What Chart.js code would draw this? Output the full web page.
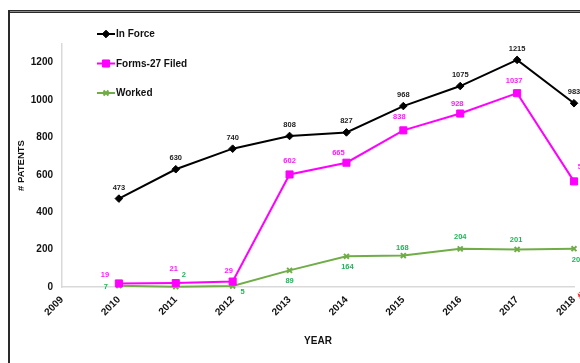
<!DOCTYPE html>
<html>

<head>
    <meta charset="utf-8">
    <title>Patents</title>
    <script src="https://cdn.jsdelivr.net/npm/chart.js@4.4.0/dist/chart.umd.min.js"></script>
    <style>
        html, body { margin: 0; padding: 0; overflow: hidden; background: #fff; }
        #frame {
            position: absolute; left: 8px; top: 10px; width: 700px; height: 500px;
            border-left: 2px solid #2a2a2a; border-top: 3px solid #2a2a2a;
        }
        #frameInner { position: absolute; left: 10px; top: 11px; width: 700px; height: 1px; background: #8a8a8a; }
        #myChart { position: absolute; left: 0; top: 0; }
    </style>
</head>

<body>
    <div id="frame"></div>
    <div id="frameInner"></div>
    <canvas id="myChart" width="620" height="363"></canvas>
    <script>
        // years on the x axis (2009 has no values)
        const years = ['2009', '2010', '2011', '2012', '2013', '2014', '2015', '2016', '2017', '2018'];
        const inForce = [null, 473, 630, 740, 808, 827, 968, 1075, 1215, 983];
        const forms27 = [null, 19, 21, 29, 602, 665, 838, 928, 1037, 565];
        const worked = [null, 7, 2, 5, 89, 164, 168, 204, 201, 205];

        // where each value label sits relative to its point [dx, dy]
        const inForceLabelPos = years.map(() => [0, -11]);
        const forms27LabelPos = [null, [-14, -9], [-2, -14], [-4, -11], [0, -14], [-8, -10], [-4, -13], [-3, -10], [-3, -12], [10, -14]];
        const workedLabelPos = [null, [-13, 1], [8, -12], [10, 6], [0, 11], [1, 11], [-1, -8], [0, -12], [-1, -9], [4, 11]];

        const FONT = "'Liberation Sans', Arial, sans-serif";

        const valueLabels = {
            id: 'valueLabels',
            afterDatasetsDraw(chart) {
                const ctx = chart.ctx;
                ctx.save();
                ctx.font = 'bold 7.5px ' + FONT;
                ctx.textAlign = 'center';
                ctx.textBaseline = 'middle';
                chart.data.datasets.forEach((ds, i) => {
                    const meta = chart.getDatasetMeta(i);
                    ctx.fillStyle = ds.labelColor;
                    meta.data.forEach((pt, j) => {
                        const v = ds.data[j];
                        if (v === null) return;
                        const off = ds.labelPos[j];
                        ctx.fillText(String(v), pt.x + off[0], pt.y + off[1]);
                    });
                });
                ctx.restore();
            }
        };

        // vertical legend in the top-left corner
        const sideLegend = {
            id: 'sideLegend',
            afterDraw(chart) {
                const ctx = chart.ctx;
                ctx.save();
                chart.data.datasets.forEach((ds, i) => {
                    const y = 34 + i * 29.5;
                    ctx.strokeStyle = ds.borderColor;
                    ctx.lineWidth = 2;
                    ctx.beginPath();
                    ctx.moveTo(97, y);
                    ctx.lineTo(115, y);
                    ctx.stroke();
                    ctx.fillStyle = ds.pointBackgroundColor;
                    ctx.strokeStyle = ds.pointBorderColor;
                    ctx.lineWidth = ds.pointBorderWidth;
                    Chart.helpers.drawPoint(ctx, {
                        pointStyle: ds.pointStyle, radius: ds.pointRadius,
                        borderWidth: ds.pointBorderWidth, rotation: 0
                    }, 106, y);
                    ctx.fillStyle = '#111';
                    ctx.font = 'bold 10px ' + FONT;
                    ctx.textAlign = 'left';
                    ctx.textBaseline = 'middle';
                    ctx.fillText(ds.label, 116, y + 0.5);
                });
                // stray red mark after the last year label
                const x = chart.scales.x.getPixelForTick(years.length - 1);
                ctx.translate(x + 5, 298);
                ctx.rotate(-Math.PI / 4);
                ctx.fillStyle = '#e00000';
                ctx.font = 'bold 10px ' + FONT;
                ctx.textAlign = 'left';
                ctx.fillText('#', 0, 0);
                ctx.restore();
            }
        };

        const config = {
            type: 'line',
            data: {
                labels: years,
                datasets: [
                    {
                        label: 'In Force', data: inForce,
                        borderColor: '#000', borderWidth: 2,
                        pointStyle: 'rectRot', pointRadius: 3.8,
                        pointBackgroundColor: '#000', pointBorderColor: '#000', pointBorderWidth: 1,
                        labelColor: '#222', labelPos: inForceLabelPos, clip: false
                    },
                    {
                        label: 'Forms-27 Filed', data: forms27,
                        borderColor: '#ff00ff', borderWidth: 2,
                        pointStyle: 'rect', pointRadius: 5,
                        pointBackgroundColor: '#ff00ff', pointBorderColor: '#ff00ff', pointBorderWidth: 1,
                        labelColor: '#ff1aff', labelPos: forms27LabelPos, clip: false
                    },
                    {
                        label: 'Worked', data: worked,
                        borderColor: '#70ad47', borderWidth: 2,
                        pointStyle: 'crossRot', pointRadius: 3.5,
                        pointBackgroundColor: '#70ad47', pointBorderColor: '#70ad47', pointBorderWidth: 2,
                        labelColor: '#1fb55a', labelPos: workedLabelPos, clip: false
                    }
                ]
            },
            options: {
                responsive: false,
                animation: false,
                devicePixelRatio: 1,
                layout: { padding: { top: 44, left: 0, right: 46, bottom: 0 } },
                plugins: { legend: { display: false }, tooltip: { enabled: false } },
                elements: { line: { tension: 0 } },
                scales: {
                    x: {
                        type: 'category',
                        offset: false,
                        grid: { display: false, drawTicks: false },
                        border: { display: true, color: '#d9d9d9', width: 1.5 },
                        ticks: {
                            color: '#111', font: { family: FONT, size: 10, weight: 'bold' },
                            minRotation: 45, maxRotation: 45, padding: 7, autoSkip: false
                        },
                        title: {
                            display: true, text: 'YEAR', color: '#111',
                            font: { family: FONT, size: 10, weight: 'bold' },
                            padding: { top: 0, bottom: 16 }
                        },
                        afterFit: (s) => { s.height = 76; }
                    },
                    y: {
                        min: 0, max: 1300,
                        grid: { display: false, drawTicks: false },
                        border: { display: true, color: '#d9d9d9', width: 1.5 },
                        ticks: {
                            stepSize: 200, padding: 9, color: '#111',
                            font: { family: FONT, size: 10, weight: 'bold' },
                            callback: (v) => String(v)
                        },
                        afterBuildTicks: (s) => { s.ticks = s.ticks.filter(t => t.value % 200 === 0); },
                        title: {
                            display: true, text: '# PATENTS', color: '#111',
                            font: { family: FONT, size: 9.5, weight: 'bold' },
                            padding: { top: 16, bottom: 0 }
                        },
                        afterFit: (s) => { s.width = 62; }
                    }
                }
            },
            plugins: [valueLabels, sideLegend]
        };

        const myChart = new Chart(document.getElementById('myChart'), config);
    </script>
</body>

</html>
